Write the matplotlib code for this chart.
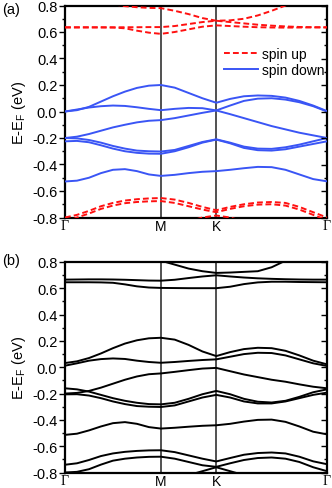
import numpy as np
import matplotlib
matplotlib.use("Agg")
import matplotlib.pyplot as plt
from matplotlib.ticker import MultipleLocator, FormatStrFormatter

plt.rcParams['font.family'] = ['Liberation Sans', 'DejaVu Sans']

# k-path: Gamma-M-K-Gamma (hexagonal), 8/4/8 intervals
seg_len = [np.sqrt(3) / 2, 0.5, 1.0]
k_labels = ['Γ', 'M', 'K', 'Γ']

# ---- panel (a): spin down bands (eV) ----
dn_bands = [
    [0.0, 0.01, 0.035, 0.075, 0.115, 0.15, 0.178, 0.195, 0.2,
     0.18, 0.14, 0.10, 0.066,
     0.095, 0.115, 0.121, 0.118, 0.105, 0.08, 0.045, 0.003],
    [0.0, 0.015, 0.03, 0.04, 0.045, 0.042, 0.032, 0.02, 0.01,
     0.02, 0.027, 0.025, 0.008,
     -0.02, -0.05, -0.08, -0.11, -0.135, -0.16, -0.18, -0.2],
    [-0.2, -0.19, -0.17, -0.145, -0.12, -0.1, -0.082, -0.07, -0.065,
     -0.05, -0.03, -0.01, 0.008,
     0.045, 0.08, 0.097, 0.1, 0.09, 0.07, 0.04, 0.0],
    [-0.2, -0.203, -0.215, -0.235, -0.26, -0.28, -0.295, -0.3, -0.302,
     -0.29, -0.26, -0.23, -0.21,
     -0.235, -0.265, -0.28, -0.282, -0.27, -0.25, -0.225, -0.2],
    [-0.225, -0.222, -0.232, -0.255, -0.28, -0.3, -0.312, -0.318, -0.319,
     -0.3, -0.27, -0.235, -0.212,
     -0.24, -0.275, -0.292, -0.295, -0.285, -0.265, -0.245, -0.225],
    [-0.528, -0.522, -0.5, -0.465, -0.44, -0.435, -0.45, -0.475, -0.486,
     -0.478, -0.465, -0.455, -0.45,
     -0.44, -0.428, -0.418, -0.42, -0.44, -0.475, -0.51, -0.527],
]

# ---- panel (a): spin up bands (eV) ----
up_bands = [
    [1.1, 1.05, 0.97, 0.89, 0.81, 0.795, 0.787, 0.782, 0.78,
     0.76, 0.735, 0.705, 0.685,
     0.688, 0.7, 0.725, 0.76, 0.8, 0.86, 0.93, 1.0],
    [0.635, 0.635, 0.635, 0.635, 0.635, 0.636, 0.636, 0.637, 0.637,
     0.645, 0.66, 0.675, 0.685,
     0.675, 0.665, 0.655, 0.648, 0.642, 0.638, 0.636, 0.635],
    [0.635, 0.635, 0.635, 0.635, 0.634, 0.628, 0.61, 0.595, 0.586,
     0.6, 0.62, 0.64, 0.65,
     0.645, 0.64, 0.636, 0.634, 0.633, 0.634, 0.635, 0.635],
    [-0.8, -0.78, -0.75, -0.715, -0.69, -0.672, -0.662, -0.656, -0.653,
     -0.665, -0.69, -0.72, -0.745,
     -0.72, -0.7, -0.687, -0.683, -0.69, -0.72, -0.76, -0.8],
    [-0.84, -0.8, -0.77, -0.735, -0.71, -0.692, -0.683, -0.678, -0.676,
     -0.69, -0.715, -0.74, -0.76,
     -0.735, -0.715, -0.703, -0.7, -0.71, -0.74, -0.78, -0.82],
    [-1.0, -1.0, -0.98, -0.96, -0.94, -0.92, -0.9, -0.88, -0.87,
     -0.85, -0.83, -0.8, -0.785,
     -0.8, -0.83, -0.86, -0.89, -0.92, -0.95, -0.98, -1.0],
]

# ---- panel (b): all bands (eV) ----
all_bands = [
    [1.2, 1.1, 1.0, 0.93, 0.88, 0.85, 0.83, 0.815, 0.81,
     0.78, 0.75, 0.73, 0.717,
     0.72, 0.725, 0.73, 0.76, 0.81, 0.88, 0.95, 1.0],
    [0.666, 0.667, 0.668, 0.668, 0.667, 0.665, 0.662, 0.659, 0.658,
     0.665, 0.678, 0.69, 0.699,
     0.69, 0.682, 0.676, 0.672, 0.669, 0.667, 0.666, 0.666],
    [0.646, 0.646, 0.646, 0.645, 0.642, 0.63, 0.615, 0.606, 0.603,
     0.602, 0.601, 0.601, 0.601,
     0.612, 0.632, 0.645, 0.65, 0.65, 0.648, 0.647, 0.646],
    [0.032, 0.045, 0.07, 0.105, 0.145, 0.18, 0.205, 0.22, 0.224,
     0.21, 0.17, 0.12, 0.085,
     0.115, 0.138, 0.148, 0.145, 0.125, 0.09, 0.05, 0.022],
    [0.012, 0.03, 0.05, 0.062, 0.067, 0.063, 0.05, 0.04, 0.034,
     0.04, 0.048, 0.055, 0.06,
     0.08, 0.1, 0.11, 0.108, 0.09, 0.06, 0.03, 0.01],
    [-0.2, -0.195, -0.18, -0.155, -0.125, -0.095, -0.07, -0.053, -0.047,
     -0.035, -0.022, -0.01, -0.005,
     -0.03, -0.055, -0.075, -0.095, -0.11, -0.13, -0.148, -0.16],
    [-0.16, -0.168, -0.185, -0.21, -0.235, -0.255, -0.27, -0.28, -0.282,
     -0.27, -0.24, -0.205, -0.18,
     -0.205, -0.24, -0.262, -0.268, -0.255, -0.225, -0.19, -0.168],
    [-0.206, -0.205, -0.215, -0.235, -0.26, -0.28, -0.295, -0.3, -0.302,
     -0.29, -0.26, -0.23, -0.21,
     -0.23, -0.26, -0.275, -0.275, -0.26, -0.235, -0.21, -0.193],
    [-0.514, -0.505, -0.48, -0.45, -0.425, -0.417, -0.43, -0.455, -0.466,
     -0.46, -0.452, -0.445, -0.441,
     -0.43, -0.413, -0.4, -0.398, -0.415, -0.45, -0.49, -0.51],
    [-0.741, -0.73, -0.705, -0.675, -0.655, -0.643, -0.636, -0.632, -0.631,
     -0.645, -0.67, -0.695, -0.716,
     -0.69, -0.665, -0.652, -0.648, -0.655, -0.68, -0.715, -0.737],
    [-0.8, -0.795, -0.775, -0.74, -0.71, -0.695, -0.686, -0.681, -0.68,
     -0.695, -0.72, -0.745, -0.757,
     -0.73, -0.705, -0.69, -0.686, -0.695, -0.72, -0.76, -0.79],
    [-1.0, -1.0, -0.98, -0.96, -0.94, -0.92, -0.9, -0.88, -0.87,
     -0.85, -0.82, -0.79, -0.76,
     -0.79, -0.82, -0.85, -0.88, -0.91, -0.94, -0.97, -1.0],
]

# build k axis from segment lengths
nodes = np.concatenate([[0.0], np.cumsum(seg_len)])
k = np.concatenate([
    np.linspace(nodes[0], nodes[1], 9),
    np.linspace(nodes[1], nodes[2], 5)[1:],
    np.linspace(nodes[2], nodes[3], 9)[1:],
])

W, H = 332, 489
fig = plt.figure(figsize=(W / 100, H / 100), dpi=100)

def make_ax(top, bottom):
    left, right = 65, 327
    ax = fig.add_axes([left / W, 1 - bottom / H, (right - left) / W, (bottom - top) / H])
    ax.set_xlim(nodes[0], nodes[-1])
    ax.set_ylim(-0.8, 0.8)
    ax.yaxis.set_major_locator(MultipleLocator(0.2))
    ax.yaxis.set_minor_locator(MultipleLocator(0.1))
    ax.yaxis.set_major_formatter(FormatStrFormatter('%.1f'))
    ax.tick_params(axis='y', which='major', direction='out', length=4, width=1, labelsize=10.5, pad=1.5)
    ax.tick_params(axis='y', which='minor', direction='out', length=2.5, width=1)
    ax.set_xticks(nodes)
    ax.set_xticklabels(k_labels)
    for lab in ax.get_xticklabels():
        if lab.get_text() == 'Γ':
            lab.set_family(['Liberation Serif', 'DejaVu Serif'])
    ax.tick_params(axis='x', length=0, labelsize=10, pad=1)
    for s in ax.spines.values():
        s.set_linewidth(1.6)
    for x in nodes[1:-1]:
        ax.axvline(x, color='#222222', lw=1.1, zorder=1)
    # inward ticks on the right side
    ax2 = ax.twinx()
    ax2.set_ylim(-0.8, 0.8)
    ax2.yaxis.set_major_locator(MultipleLocator(0.2))
    ax2.yaxis.set_minor_locator(MultipleLocator(0.1))
    ax2.tick_params(axis='y', which='major', direction='in', length=4, width=1, labelright=False)
    ax2.tick_params(axis='y', which='minor', direction='in', length=2.5, width=1)
    for s in ax2.spines.values():
        s.set_visible(False)
    ax.set_ylabel(r'E-E$_\mathregular{F}$ (eV)', fontsize=10.5, labelpad=3)
    return ax

ax_a = make_ax(6.5, 218.5)
for i, band in enumerate(up_bands):
    ax_a.plot(k, band, color='#ff1010', lw=1.4, ls=(0, (3, 1.6)),
              label='spin up' if i == 0 else None, zorder=3)
for i, band in enumerate(dn_bands):
    ax_a.plot(k, band, color='#3a55f5', lw=1.4,
              label='spin down' if i == 0 else None, zorder=3)
leg = ax_a.legend(loc='upper right', bbox_to_anchor=(0.99, 0.806), frameon=False,
                  fontsize=10, handlelength=2.4, handletextpad=0.3, labelspacing=0.15,
                  borderaxespad=0, borderpad=0)
leg.set_zorder(5)

ax_b = make_ax(263, 473.5)
for band in all_bands:
    ax_b.plot(k, band, color='black', lw=1.4, zorder=3)

fig.text(2 / W, 1 - 10 / H, '(a)', fontsize=10.5, va='center', ha='left')
fig.text(2 / W, 1 - 261 / H, '(b)', fontsize=10.5, va='center', ha='left')

fig.savefig('out.png', dpi=100)
